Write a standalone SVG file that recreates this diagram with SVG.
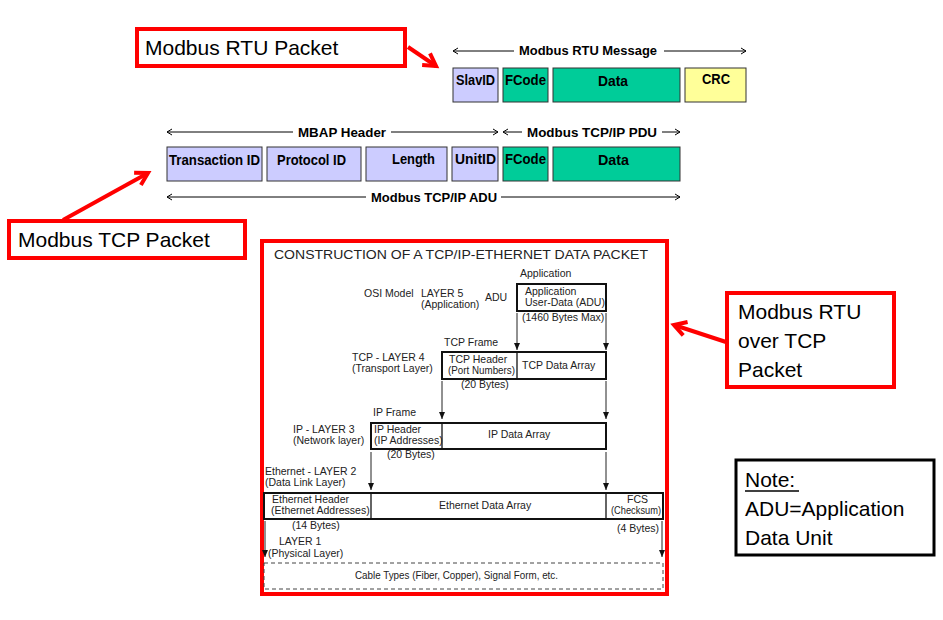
<svg xmlns="http://www.w3.org/2000/svg" width="943" height="620" viewBox="0 0 943 620">
<defs>
<style>
.call{font-family:"Liberation Sans",Arial,sans-serif;font-size:21px;fill:#000}
.lbl{font-family:"Liberation Sans Narrow","Liberation Sans",Arial,sans-serif;font-weight:bold;font-size:14px;fill:#000}
.hd{font-family:"Liberation Sans Narrow","Liberation Sans",Arial,sans-serif;font-weight:bold;font-size:13px;fill:#000}
.sc{font-family:"Liberation Sans",Arial,sans-serif;font-size:10.5px;fill:#222}
.redbox{fill:#fff;stroke:#f00;stroke-width:4}
.lav{fill:#ccccff;stroke:#333;stroke-width:1}
.grn{fill:#00cc99;stroke:#333;stroke-width:1}
.yel{fill:#ffff99;stroke:#333;stroke-width:1}
.thin{stroke:#000;stroke-width:1;fill:none}
.redln{stroke:#f00;stroke-width:4;fill:none}
.bx{fill:#fff;stroke:#111;stroke-width:2}
.dv{stroke:#111;stroke-width:1.3}
.dn{stroke:#222;stroke-width:1;fill:none}
</style>
<marker id="oa" markerUnits="userSpaceOnUse" markerWidth="10" markerHeight="10" refX="8" refY="5" orient="auto-start-reverse">
<path d="M3,2 L8,5 L3,8" fill="none" stroke="#000" stroke-width="1"/>
</marker>
<marker id="ra" markerUnits="userSpaceOnUse" markerWidth="22" markerHeight="22" refX="17" refY="11" orient="auto">
<path d="M5,4 L17,11 L5,18" fill="none" stroke="#f00" stroke-width="4"/>
</marker>
<marker id="fa" markerUnits="userSpaceOnUse" markerWidth="10" markerHeight="10" refX="8" refY="5" orient="auto">
<path d="M1,2 L8,5 L1,8 z" fill="#111"/>
</marker>
</defs>
<rect width="943" height="620" fill="#fff"/>

<g id="connectors">
<line class="redln" x1="408" y1="47" x2="436" y2="66" marker-end="url(#ra)"/>
<line class="redln" x1="63" y1="220" x2="148" y2="173" marker-end="url(#ra)"/>
<line class="redln" x1="726" y1="342" x2="674" y2="325" marker-end="url(#ra)"/>
<line class="thin" x1="453" y1="51" x2="514" y2="51" marker-start="url(#oa)"/>
<line class="thin" x1="664" y1="51" x2="746" y2="51" marker-end="url(#oa)"/>
<line class="thin" x1="167" y1="132" x2="293" y2="132" marker-start="url(#oa)"/>
<line class="thin" x1="391" y1="132" x2="498" y2="132" marker-end="url(#oa)"/>
<line class="thin" x1="503" y1="132" x2="522" y2="132" marker-start="url(#oa)"/>
<line class="thin" x1="662" y1="132" x2="680" y2="132" marker-end="url(#oa)"/>
<line class="thin" x1="167" y1="197" x2="366" y2="197" marker-start="url(#oa)"/>
<line class="thin" x1="501" y1="197" x2="680" y2="197" marker-end="url(#oa)"/>
</g>

<g id="rtu-callout">
<rect class="redbox" x="137" y="29" width="268" height="37"/>
<text class="call" x="145" y="55">Modbus RTU Packet</text>
</g>
<g id="rtu-message">
<text class="hd" x="519" y="55" textLength="138" lengthAdjust="spacingAndGlyphs">Modbus RTU Message</text>
</g>
<g id="rtu-slavid"><rect class="lav" x="453" y="68" width="45" height="34"/><text class="lbl" x="456" y="85" textLength="39" lengthAdjust="spacingAndGlyphs">SlavID</text></g>
<g id="rtu-fcode"><rect class="grn" x="503" y="68" width="45" height="34"/><text class="lbl" x="505" y="85" textLength="41" lengthAdjust="spacingAndGlyphs">FCode</text></g>
<g id="rtu-data"><rect class="grn" x="553" y="68" width="127" height="34"/><text class="lbl" x="598" y="86" textLength="30" lengthAdjust="spacingAndGlyphs">Data</text></g>
<g id="rtu-crc"><rect class="yel" x="685" y="68" width="61" height="34"/><text class="lbl" x="702" y="84" textLength="28" lengthAdjust="spacingAndGlyphs">CRC</text></g>

<g id="tcp-headers">
<text class="hd" x="298" y="137" textLength="88" lengthAdjust="spacingAndGlyphs">MBAP Header</text>
<text class="hd" x="527" y="137" textLength="130" lengthAdjust="spacingAndGlyphs">Modbus TCP/IP PDU</text>
<text class="hd" x="371" y="202" textLength="126" lengthAdjust="spacingAndGlyphs">Modbus TCP/IP ADU</text>
</g>
<g id="tcp-transid"><rect class="lav" x="167" y="147" width="95" height="34"/><text class="lbl" x="169" y="165" textLength="91" lengthAdjust="spacingAndGlyphs">Transaction ID</text></g>
<g id="tcp-protoid"><rect class="lav" x="267" y="147" width="94" height="34"/><text class="lbl" x="277" y="165" textLength="69" lengthAdjust="spacingAndGlyphs">Protocol ID</text></g>
<g id="tcp-length"><rect class="lav" x="366" y="147" width="81" height="34"/><text class="lbl" x="392" y="164" textLength="43" lengthAdjust="spacingAndGlyphs">Length</text></g>
<g id="tcp-unitid"><rect class="lav" x="452" y="147" width="46" height="34"/><text class="lbl" x="455" y="164" textLength="41" lengthAdjust="spacingAndGlyphs">UnitID</text></g>
<g id="tcp-fcode"><rect class="grn" x="503" y="147" width="45" height="34"/><text class="lbl" x="505" y="164" textLength="41" lengthAdjust="spacingAndGlyphs">FCode</text></g>
<g id="tcp-data"><rect class="grn" x="553" y="147" width="127" height="34"/><text class="lbl" x="598" y="165" textLength="31" lengthAdjust="spacingAndGlyphs">Data</text></g>

<g id="tcp-callout">
<rect class="redbox" x="9" y="221" width="236" height="37"/>
<text class="call" x="18" y="247">Modbus TCP Packet</text>
</g>

<g id="construction">
<rect class="redbox" x="262" y="241" width="405" height="353"/>
<text x="274" y="259" font-family="Liberation Sans, Arial, sans-serif" font-size="13.5" fill="#222" textLength="374" lengthAdjust="spacingAndGlyphs">CONSTRUCTION OF A TCP/IP-ETHERNET DATA PACKET</text>

<text class="sc" x="520" y="277">Application</text>
<text class="sc" x="364" y="297">OSI Model</text>
<text class="sc" x="421" y="297">LAYER 5</text>
<text class="sc" x="421" y="308">(Application)</text>
<text class="sc" x="485" y="301">ADU</text>
<rect class="bx" x="517" y="284" width="89" height="27"/>
<text class="sc" x="525" y="295">Application</text>
<text class="sc" x="525" y="306">User-Data (ADU)</text>
<text class="sc" x="522" y="321">(1460 Bytes Max)</text>
<line class="dn" x1="517" y1="313" x2="517" y2="350" stroke="#888" marker-end="url(#fa)"/>
<line class="dn" x1="606" y1="313" x2="606" y2="350" marker-end="url(#fa)"/>

<text class="sc" x="444" y="346">TCP Frame</text>
<text class="sc" x="352" y="361">TCP - LAYER 4</text>
<text class="sc" x="352" y="372">(Transport Layer)</text>
<rect class="bx" x="442" y="352" width="164" height="27"/>
<line class="dv" x1="517" y1="352" x2="517" y2="379"/>
<text class="sc" x="449" y="363">TCP Header</text>
<text class="sc" x="448" y="374" textLength="67" lengthAdjust="spacingAndGlyphs">(Port Numbers)</text>
<text class="sc" x="522" y="369">TCP Data Array</text>
<text class="sc" x="461" y="388">(20 Bytes)</text>
<line class="dn" x1="442" y1="381" x2="442" y2="419" marker-end="url(#fa)"/>
<line class="dn" x1="606" y1="381" x2="606" y2="419" marker-end="url(#fa)"/>

<text class="sc" x="373" y="416">IP Frame</text>
<text class="sc" x="293" y="433">IP - LAYER 3</text>
<text class="sc" x="293" y="444">(Network layer)</text>
<rect class="bx" x="371" y="423" width="235" height="26"/>
<line class="dv" x1="442" y1="423" x2="442" y2="449"/>
<text class="sc" x="374" y="433">IP Header</text>
<text class="sc" x="374" y="444">(IP Addresses)</text>
<text class="sc" x="488" y="438">IP Data Array</text>
<text class="sc" x="387" y="458">(20 Bytes)</text>
<line class="dn" x1="371" y1="452" x2="371" y2="490" marker-end="url(#fa)"/>
<line class="dn" x1="606" y1="452" x2="606" y2="490" marker-end="url(#fa)"/>

<text class="sc" x="265" y="475">Ethernet - LAYER 2</text>
<text class="sc" x="265" y="486">(Data Link Layer)</text>
<rect class="bx" x="264" y="493" width="399" height="26"/>
<line class="dv" x1="371" y1="493" x2="371" y2="519"/>
<line class="dv" x1="606" y1="493" x2="606" y2="519"/>
<text class="sc" x="272" y="503">Ethernet Header</text>
<text class="sc" x="271" y="514">(Ethernet Addresses)</text>
<text class="sc" x="439" y="509">Ethernet Data Array</text>
<text class="sc" x="627" y="503">FCS</text>
<text class="sc" x="611" y="514" textLength="50" lengthAdjust="spacingAndGlyphs">(Checksum)</text>
<text class="sc" x="292" y="529">(14 Bytes)</text>
<text class="sc" x="617" y="532">(4 Bytes)</text>
<line class="dn" x1="265" y1="521" x2="265" y2="557" marker-end="url(#fa)"/>
<line class="dn" x1="662" y1="521" x2="662" y2="557" marker-end="url(#fa)"/>
<text class="sc" x="279" y="545">LAYER 1</text>
<text class="sc" x="268" y="557">(Physical Layer)</text>
<rect x="264" y="563" width="399" height="26" fill="none" stroke="#444" stroke-width="1" stroke-dasharray="4,3"/>
<text class="sc" x="355" y="579" textLength="203" lengthAdjust="spacingAndGlyphs">Cable Types (Fiber, Copper), Signal Form, etc.</text>
</g>

<g id="rtu-over-tcp-callout">
<rect class="redbox" x="727" y="293" width="167" height="94"/>
<text class="call" x="738" y="319">Modbus RTU</text>
<text class="call" x="738" y="348">over TCP</text>
<text class="call" x="738" y="377">Packet</text>
</g>

<g id="note">
<rect x="736" y="460" width="198" height="95" fill="#fff" stroke="#000" stroke-width="3"/>
<text class="call" x="745" y="487">Note:</text>
<line x1="745" y1="491" x2="799" y2="491" stroke="#000" stroke-width="1.5"/>
<text class="call" x="745" y="516">ADU=Application</text>
<text class="call" x="745" y="545">Data Unit</text>
</g>
</svg>
